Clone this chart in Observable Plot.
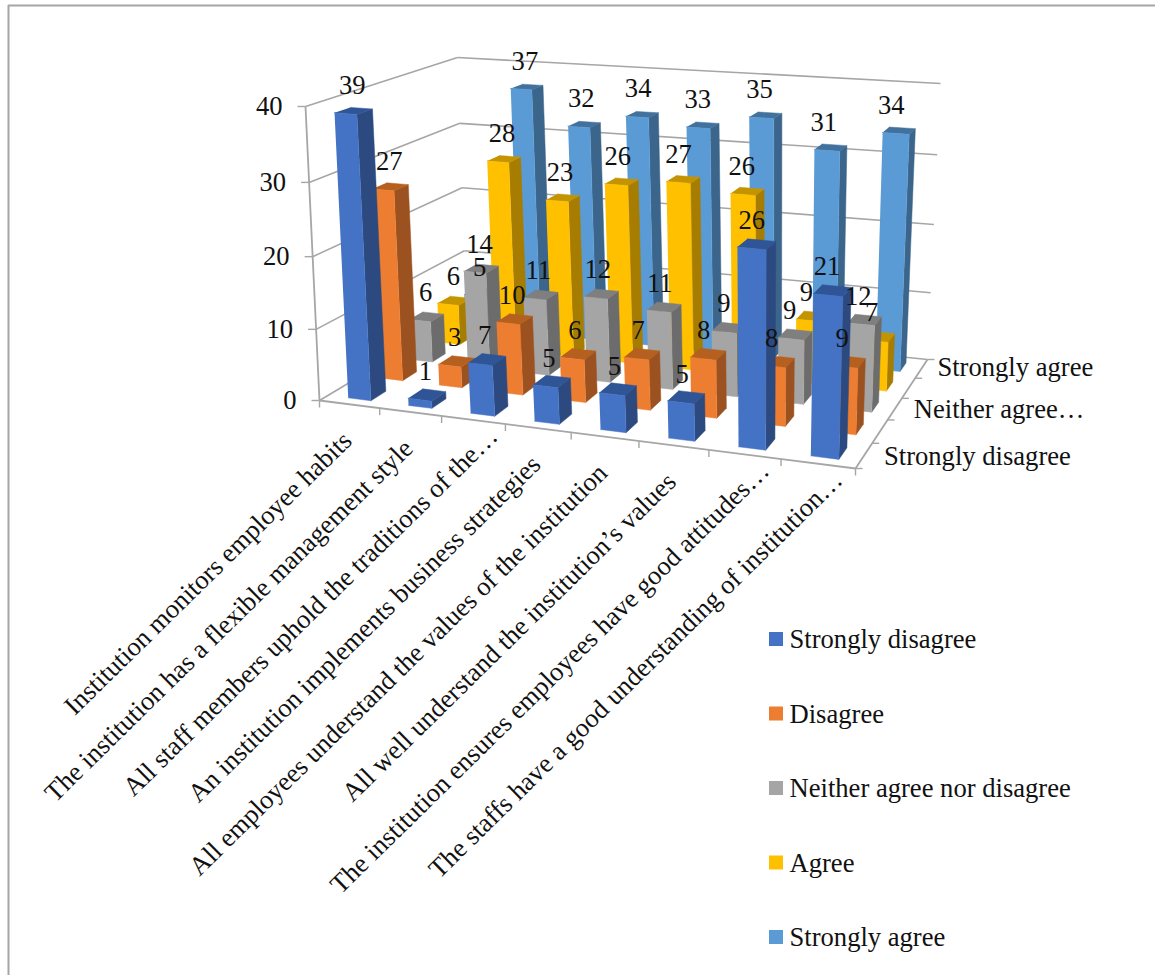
<!DOCTYPE html>
<html>
<head>
<meta charset="utf-8">
<script src="https://cdn.jsdelivr.net/npm/d3@7"></script>
<script src="https://cdn.jsdelivr.net/npm/@observablehq/plot@0.6"></script>
<style>
  html, body { margin: 0; padding: 0; background: #fff; overflow: hidden; }
  svg { display: block; }
</style>
</head>
<body>
<div id="chart"></div>
<script>
// Survey statements along the front edge of the floor
const statements = [
  "Institution monitors employee habits",
  "The institution has a flexible management style",
  "All staff members uphold the traditions of the…",
  "An institution implements business strategies",
  "All employees understand the values of the institution",
  "All well understand the institution’s values",
  "The institution ensures employees have good attitudes…",
  "The staffs have a good understanding of institution…"
];
// Response levels, front row to back row
const responses = ["Strongly disagree", "Disagree", "Neither agree nor disagree", "Agree", "Strongly agree"];
const depthLabels = ["Strongly disagree", "", "Neither agree…", "", "Strongly agree"];
const stronglyDisagree = [39, 1, 7, 5, 5, 5, 26, 21];
const disagree = [27, 3, 10, 6, 7, 8, 8, 9];
const neither = [6, 14, 11, 12, 11, 9, 9, 12];
const agree = [6, 28, 23, 26, 27, 26, 9, 7];
const stronglyAgree = [5, 37, 32, 34, 33, 35, 31, 34];
const seriesValues = [stronglyDisagree, disagree, neither, agree, stronglyAgree];
const valueTicks = [0, 10, 20, 30, 40];

// Front, side and top shades of each row
const shades = [
  {front: "#4472C4", side: "#2C4A80", top: "#2F5597"},
  {front: "#ED7D31", side: "#9C5220", top: "#B5601F"},
  {front: "#A5A5A5", side: "#6C6C6C", top: "#7F7F7F"},
  {front: "#FFC000", side: "#A67D00", top: "#C49400"},
  {front: "#5B9BD5", side: "#3C658B", top: "#41719C"}
];

// Box corners on screen: floor and ceiling of the plot volume
const floorQuad = [[319, 400], [855, 468], [927, 359], [466, 312]];
const ceilQuad = [[305, 106], [865, 148], [940, 83], [457, 57]];

function homography(q) {
  const [[x0, y0], [x1, y1], [x2, y2], [x3, y3]] = q;
  const sx = x0 - x1 + x2 - x3, sy = y0 - y1 + y2 - y3;
  const dx1 = x1 - x2, dx2 = x3 - x2, dy1 = y1 - y2, dy2 = y3 - y2;
  const den = dx1 * dy2 - dx2 * dy1;
  const g = (sx * dy2 - dx2 * sy) / den, h = (dx1 * sy - sx * dy1) / den;
  const a = x1 - x0 + g * x1, b = x3 - x0 + h * x3;
  const d = y1 - y0 + g * y1, e = y3 - y0 + h * y3;
  return (u, w) => {
    const t = g * u + h * w + 1;
    return [(a * u + b * w + x0) / t, (d * u + e * w + y0) / t];
  };
}
const onFloor = homography(floorQuad), onCeil = homography(ceilQuad);

// Project (statement position, row position, value) to the page
function project(u, w, v) {
  const t = v / 40;
  const k = t / (1 + 0.044 * (1 - t));
  const [a, b] = [onFloor(u, w), onCeil(u, w)];
  return [a[0] + (b[0] - a[0]) * k, a[1] + (b[1] - a[1]) * k];
}

const nCat = statements.length, nRow = responses.length;
const widthShare = 0.38, depthShare = 0.46;
const uLo = (1 - widthShare) / 2 + 0.03, uHi = uLo + widthShare;
const wLo = (1 - depthShare) / 2 - 0.02, wHi = wLo + depthShare;

// Faces of every bar, back row first so nearer bars cover farther ones
const faces = [];
function addFace(id, corners, fill) {
  for (const [u, w, v] of corners) {
    const [x, y] = project(u, w, v);
    faces.push({id, x, y, fill});
  }
}
for (let j = nRow - 1; j >= 0; j--) {
  seriesValues[j].forEach((v, i) => {
    const u0 = (i + uLo) / nCat, u1 = (i + uHi) / nCat;
    const w0 = (j + wLo) / nRow, w1 = (j + wHi) / nRow;
    const s = shades[j];
    addFace(`${j}-${i}-side`, [[u1, w0, 0], [u1, w1, 0], [u1, w1, v], [u1, w0, v]], s.side);
    addFace(`${j}-${i}-top`, [[u0, w0, v], [u1, w0, v], [u1, w1, v], [u0, w1, v]], s.top);
    addFace(`${j}-${i}-front`, [[u0, w0, 0], [u1, w0, 0], [u1, w0, v], [u0, w0, v]], s.front);
  });
}

// Value labels above each bar, drifting with the bar's place on the floor
const valueLabels = [];
seriesValues.forEach((vals, j) => vals.forEach((v, i) => {
  const u = (i + 0.5) / nCat, w = (j + wLo) / nRow;
  const [x, y] = project(u, w, v);
  const drift = (9 - 8 * u) * (1 - w) + (7 - 11 * u) * w;
  valueLabels.push({x: x + drift, y: y - 28, text: String(v)});
}));

// Wall and floor lines
const seg = (a, b) => {
  const [x1, y1] = project(...a), [x2, y2] = project(...b);
  return {x1, y1, x2, y2};
};
const gridLines = [];
for (const v of valueTicks) {
  gridLines.push(seg([0, 0, v], [0, 1, v]), seg([0, 1, v], [1, 1, v]));
}
const axisLines = [
  seg([0, 0, 0], [0, 0, 40]),
  seg([0, 0, 0], [1, 0, 0]),
  seg([1, 0, 0], [1, 1, 0])
];
const tickLines = [];
for (const v of valueTicks) {
  const [x, y] = project(0, 0, v);
  tickLines.push({x1: x - 8, y1: y, x2: x, y2: y});
}
for (let i = 0; i <= nCat; i++) {
  const [x, y] = project(i / nCat, 0, 0);
  tickLines.push({x1: x, y1: y, x2: x, y2: y + 7});
}
for (let j = 0; j <= nRow; j++) {
  const [x, y] = project(1, j / nRow, 0);
  tickLines.push({x1: x, y1: y, x2: x + 7, y2: y});
}

const valueAxis = valueTicks.map(v => {
  const [x, y] = project(0, 0, v);
  return {x: x - 23, y, text: String(v)};
});
// Truncated statements sit a little further along their slant
const statementAxis = statements.map((text, i) => {
  const [x, y] = project((i + 0.5) / nCat, 0, 0);
  const cut = text.endsWith("…");
  return {x: x - 2 + (cut ? 22 : 0), y: y + 32 - (cut ? 20 : 0), text};
});
const depthAxis = depthLabels.map((text, j) => {
  const [x, y] = project(1, (j + 0.5) / nRow, 0);
  return {x: x + 20 - j * j / 4, y: y + 1 - (j === 4 ? 2 : 0), text};
}).filter(d => d.text);

const legendRows = responses.map((text, j) => ({text, fill: shades[j].front, y: 639 + 74.5 * j}));

const font = "Liberation Serif, Times New Roman, serif";
const ink = "#111";
const labelSize = 26.6;
const lineOpts = {x1: "x1", y1: "y1", x2: "x2", y2: "y2", stroke: "#A6A6A6"};

const chart = Plot.plot({
  width: 1155,
  height: 975,
  margin: 0,
  x: {domain: [0, 1155], range: [0, 1155], axis: null},
  y: {domain: [0, 975], range: [0, 975], axis: null},
  color: {type: "identity"},
  style: {background: "#fff", fontFamily: font},
  marks: [
    Plot.ruleX([8], {y1: 5, y2: 975, stroke: "#A6A6A6", strokeWidth: 2}),
    Plot.ruleY([5], {x1: 8, x2: 1155, stroke: "#A6A6A6", strokeWidth: 2}),
    Plot.link(gridLines, {...lineOpts, strokeWidth: 1.6}),
    Plot.link(axisLines, {...lineOpts, strokeWidth: 1.8}),
    Plot.link(tickLines, {...lineOpts, strokeWidth: 1.4}),
    Plot.line(faces, {x: "x", y: "y", z: "id", fill: "fill", stroke: "fill", strokeWidth: 0.5}),
    Plot.text(valueAxis, {x: "x", y: "y", text: "text", textAnchor: "end", fontSize: labelSize, fill: ink}),
    Plot.text(statementAxis, {x: "x", y: "y", text: "text", textAnchor: "end", rotate: -44.5, fontSize: labelSize, fill: ink}),
    Plot.text(depthAxis, {x: "x", y: "y", text: "text", textAnchor: "start", fontSize: labelSize, fill: ink}),
    Plot.text(valueLabels, {x: "x", y: "y", text: "text", fontSize: labelSize, fill: ink}),
    Plot.rect(legendRows, {x1: () => 769, x2: () => 783, y1: d => d.y - 7, y2: d => d.y + 7, fill: "fill"}),
    Plot.text(legendRows, {x: () => 789, y: "y", text: "text", textAnchor: "start", fontSize: labelSize, fill: ink})
  ]
});
document.getElementById("chart").appendChild(chart);
</script>
</body>
</html>
